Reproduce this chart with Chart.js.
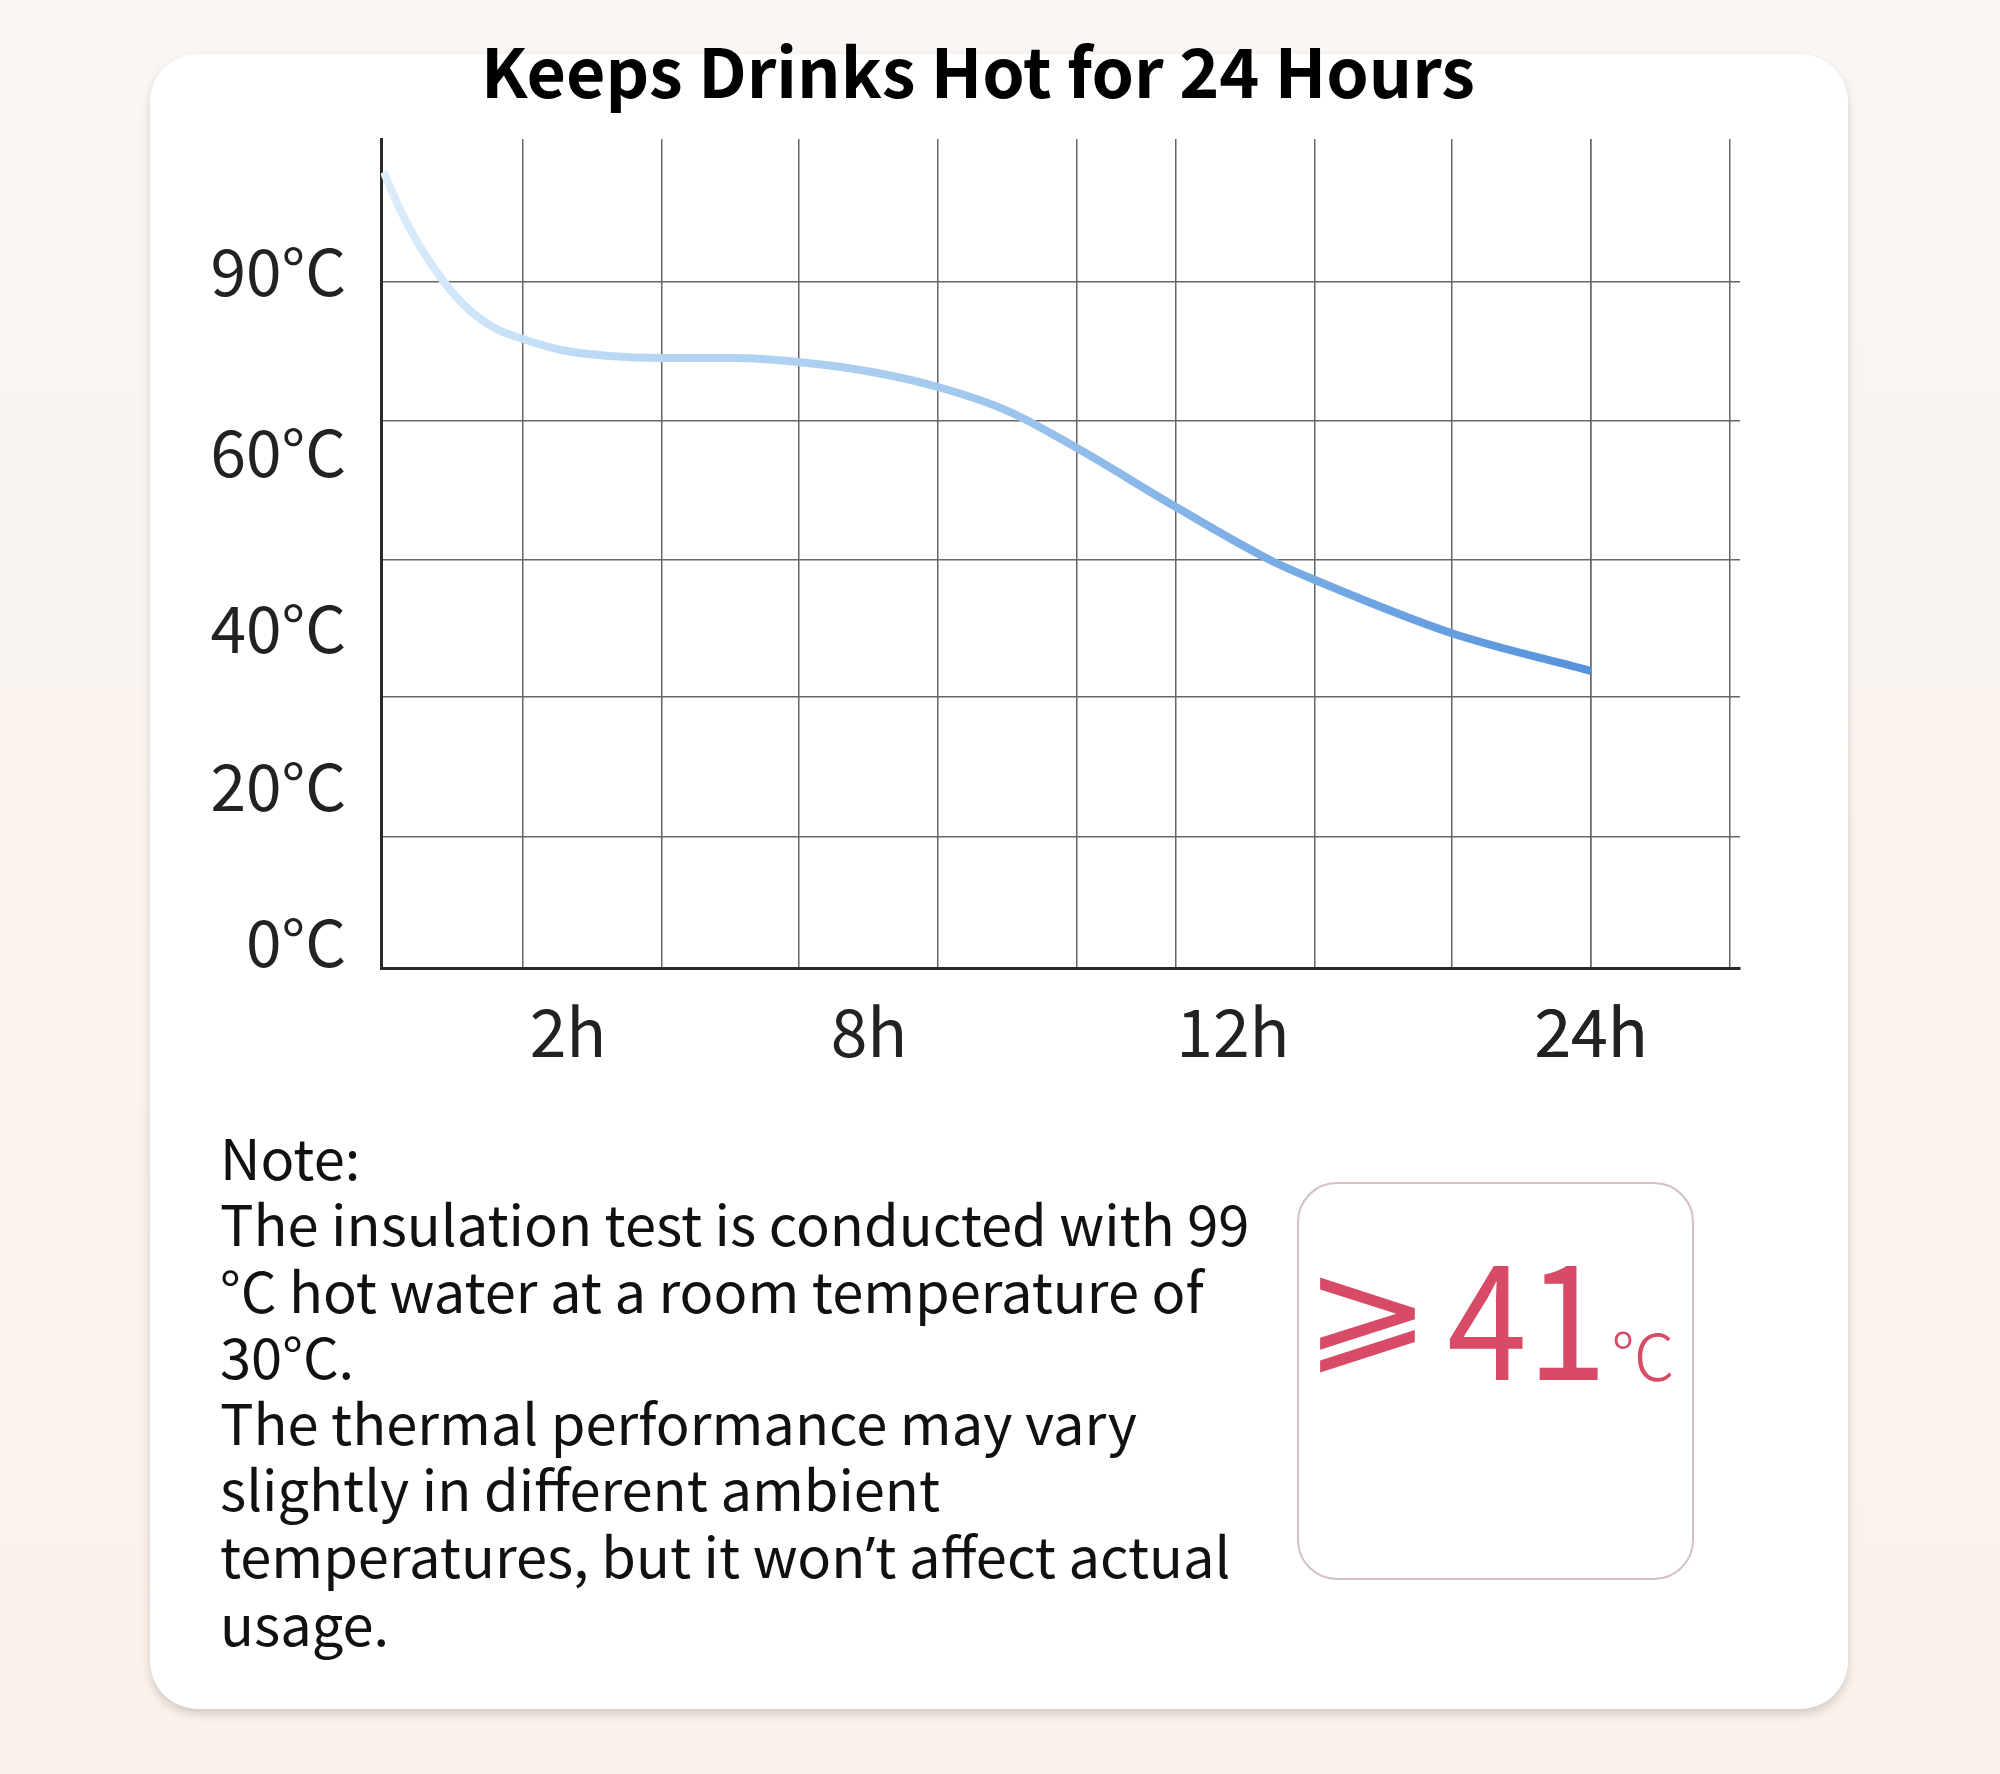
<!DOCTYPE html>
<html lang="en">
<head>
  <meta charset="UTF-8" />
  <title>Keeps Drinks Hot for 24 Hours</title>
  <script src="https://cdn.jsdelivr.net/npm/chart.js"></script>
  <style>
    html, body { margin: 0; padding: 0; }
    body {
      width: 2000px; height: 1774px; position: relative; overflow: hidden;
      background: linear-gradient(180deg, #fbf6f3 0%, #faf1ea 100%);
      font-family: 'Noto Sans CJK SC', sans-serif; color: #111;
    }
    .card {
      position: absolute; left: 150px; top: 54px; width: 1698px; height: 1655px;
      background: #fff; border-radius: 48px;
      box-shadow: 0 5px 10px rgba(0, 0, 0, 0.16);
    }
    .title {
      position: absolute; left: 0; width: 1956px; top: 36px; text-align: center;
      font-size: 68px; line-height: 66px; font-weight: 700; color: #000;
    }
    #chartWrap { position: absolute; left: 0; top: 0; width: 2000px; height: 1100px; }
    .note {
      position: absolute; left: 220px; top: 1123px;
      font-size: 56px; line-height: 66.3px; color: #111; white-space: nowrap;
    }
    .note .ap { font-family: 'Noto Sans', sans-serif; }
    .badge {
      position: absolute; left: 1297px; top: 1182px; width: 393px; height: 394px;
      border: 2px solid #d6c0c0; border-radius: 40px;
    }
    .bt { position: absolute; color: #d84b67; white-space: nowrap; transform-origin: 0 50%; }
    .ge { font-family: 'DejaVu Sans'; font-size: 135px; line-height: 135px; left: 1304px; top: 1242px; transform: scaleX(1.12); }
    .num { font-size: 160px; line-height: 160px; left: 1447px; top: 1230px; transform: scaleX(0.9); }
    .unit { font-size: 64px; line-height: 64px; left: 1611px; top: 1320px; font-weight: 300; }
  </style>
</head>
<body>
  <div class="card"></div>
  <div class="title">Keeps Drinks Hot for 24 Hours</div>
  <div id="chartWrap"><canvas id="lineChart" width="2000" height="1100"></canvas></div>

  <div class="note">Note:<br>The insulation test is conducted with 99<br>°C hot water at a room temperature of<br>30°C.<br>The thermal performance may vary<br>slightly in different ambient<br>temperatures, but it won<span class="ap">’</span>t affect actual<br>usage.</div>

  <div class="badge"></div>
  <span class="bt ge">⩾</span>
  <span class="bt num">41</span>
  <span class="bt unit">℃</span>

  <script>
    // horizontal scale is in grid columns (0..10), vertical in grid rows (0..6)
    const xGridPos = [1.045, 2.068, 3.076, 4.099, 5.121, 5.85, 6.873, 7.881, 8.904, 9.926];
    const xLabelPos = [1.376, 3.591, 6.269, 8.904];
    const xLabels = ['2h', '8h', '12h', '24h'];

    const yGridPos = [0.948, 1.961, 2.953, 3.959, 4.965];
    const yLabelPos = [0.181, 1.31, 2.453, 3.727, 5.037];
    const yLabels = ['0°C', '20°C', '40°C', '60°C', '90°C'];

    // temperature curve
    const curveX = [0.02, 0.13, 0.271, 0.464, 0.623, 0.832, 1.045, 1.325, 1.678, 2.068, 2.598, 3.068, 3.613, 4.099, 4.614, 5.121, 5.85, 6.542, 6.873, 7.874, 8.904];
    const curveY = [5.761, 5.51, 5.247, 4.965, 4.786, 4.634, 4.552, 4.473, 4.43, 4.415, 4.415, 4.386, 4.314, 4.205, 4.031, 3.763, 3.336, 2.953, 2.808, 2.425, 2.15];

    const tickFont = { family: "'Noto Sans CJK SC', sans-serif", size: 64 };
    const gridColor = '#666';

    // merge grid ticks and label ticks on one axis
    const mixTicks = (gridPos, labelPos) => axis => {
      const all = gridPos.map(v => ({ value: v })).concat(labelPos.map(v => ({ value: v })));
      all.sort((a, b) => a.value - b.value);
      axis.ticks = all;
    };
    const labelFor = (labelPos, labels) => value => {
      const i = labelPos.findIndex(p => Math.abs(p - value) < 1e-6);
      return i >= 0 ? labels[i] : '';
    };
    const gridFor = gridPos => ctx => {
      const v = ctx.tick ? ctx.tick.value : null;
      return gridPos.some(p => Math.abs(p - v) < 1e-6) ? gridColor : 'rgba(0,0,0,0)';
    };

    const lineGradient = ctx => {
      const { chart } = ctx;
      const area = chart.chartArea;
      if (!area) return '#8fbde9';
      const g = chart.ctx.createLinearGradient(area.left, 0, chart.scales.x.getPixelForValue(curveX[curveX.length - 1]), 0);
      g.addColorStop(0, '#dcedfb');
      g.addColorStop(0.2, '#b7d7f3');
      g.addColorStop(0.45, '#a7cbef');
      g.addColorStop(0.7, '#7eb0e6');
      g.addColorStop(1, '#5592dc');
      return g;
    };

    new Chart(document.getElementById('lineChart'), {
      type: 'line',
      data: {
        datasets: [{
          data: curveX.map((x, i) => ({ x, y: curveY[i] })),
          borderColor: lineGradient,
          borderWidth: 8,
          pointRadius: 0,
          cubicInterpolationMode: 'monotone',
          borderCapStyle: 'butt',
          fill: false
        }]
      },
      options: {
        responsive: false,
        animation: false,
        events: [],
        layout: { padding: { left: 0, top: 139, right: 260, bottom: 32 } },
        plugins: { legend: { display: false }, tooltip: { enabled: false } },
        scales: {
          x: {
            type: 'linear', min: 0, max: 10,
            afterBuildTicks: mixTicks(xGridPos, xLabelPos),
            afterFit: s => { s.height = 100; },
            ticks: {
              autoSkip: false, maxRotation: 0, padding: 24,
              font: { ...tickFont, size: 66 }, color: '#222',
              callback: labelFor(xLabelPos, xLabels)
            },
            grid: { color: gridFor(xGridPos), lineWidth: 1.5, drawTicks: false },
            border: { color: '#2a2a2a', width: 3 }
          },
          y: {
            type: 'linear', min: 0, max: 6,
            afterBuildTicks: mixTicks(yGridPos, yLabelPos),
            afterFit: s => { s.width = 381; },
            ticks: {
              autoSkip: false, padding: 35,
              font: tickFont, color: '#222',
              callback: labelFor(yLabelPos, yLabels)
            },
            grid: { color: gridFor(yGridPos), lineWidth: 1.5, drawTicks: false },
            border: { color: '#2a2a2a', width: 3 }
          }
        }
      }
    });
  </script>
</body>
</html>
